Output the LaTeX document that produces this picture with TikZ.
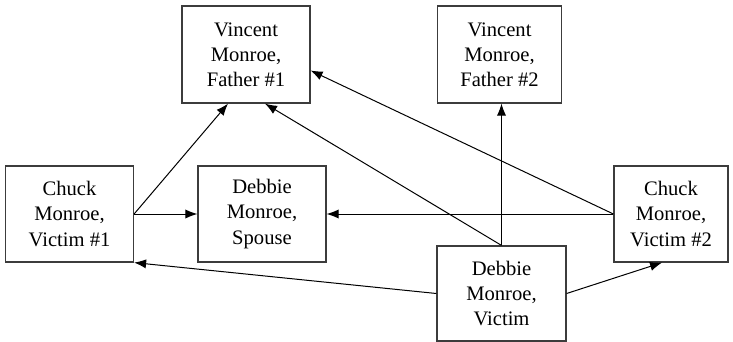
\documentclass[tikz,border=0pt]{standalone}
\usepackage{fontspec}
\setmainfont{Liberation Serif}
\usetikzlibrary{arrows.meta,positioning}
\definecolor{BoxGray}{RGB}{60,60,60}

\tikzset{
  person/.style={draw=BoxGray,line width=0.6pt,align=center,
    font=\rmfamily\fontsize{10.3}{12.6}\selectfont,inner sep=0pt},
  link/.style={-{Latex[length=6pt,width=4.6pt]},line width=0.5pt}
}

\begin{document}
\begin{tikzpicture}[x=0.5pt,y=-0.5pt,>=Latex]
      \useasboundingbox (0,0) rectangle (733,342);
      % fathers
      \node[person,minimum width=64pt,minimum height=48.5pt] (f1) at (246,54.5)
        {Vincent\\Monroe,\\Father \#1};
      \node[person,minimum width=62pt,minimum height=48.5pt] (f2) at (499.5,54.5)
        {Vincent\\Monroe,\\Father \#2};
      % middle row
      \node[person,minimum width=64pt,minimum height=48pt] (v1) at (69.5,214)
        {Chuck\\Monroe,\\Victim \#1};
      \node[person,minimum width=64pt,minimum height=48pt] (sp) at (262,214)
        {Debbie\\Monroe,\\Spouse};
      \node[person,minimum width=57pt,minimum height=48pt] (v2) at (671,214)
        {Chuck\\Monroe,\\Victim \#2};
      % bottom
      \node[person,minimum width=64.5pt,minimum height=47.5pt] (dv) at (501.5,293.5)
        {Debbie\\Monroe,\\Victim};
      % links
      \draw[link] (v1.east) -- (sp.west);
      \draw[link] (v1.east) -- ([xshift=-9pt]f1.south);
      \draw[link] (dv.north) -- ([xshift=9.5pt]f1.south);
      \draw[link] (dv.north) -- (dv.north |- f2.south);
      \draw[link] (v2.west) -- ([yshift=-8pt]f1.east);
      \draw[link] (v2.west) -- (sp.east);
      \draw[link] (dv.west) -- (v1.south east);
      \draw[link] (dv.east) -- ([xshift=-4.5pt]v2.south);
    \end{tikzpicture}
\end{document}
